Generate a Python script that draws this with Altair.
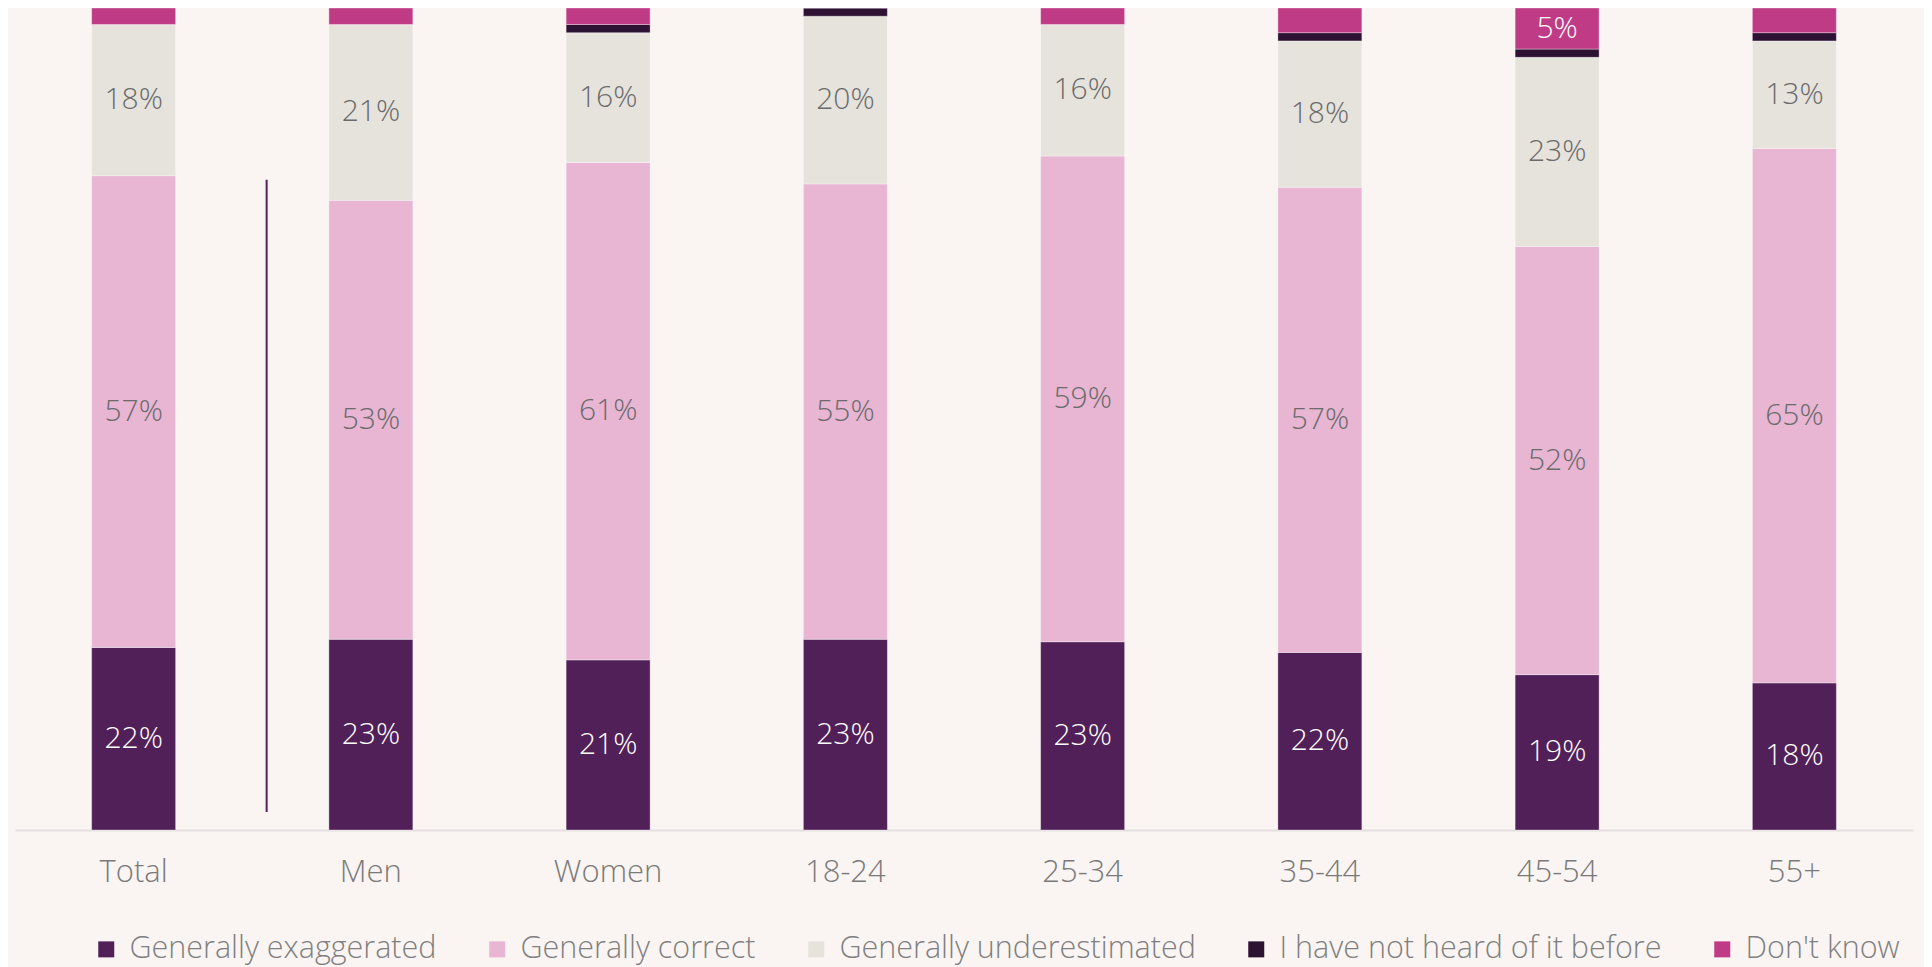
import altair as alt
import pandas as pd

categories = ["Total", "Men", "Women", "18-24", "25-34", "35-44", "45-54", "55+"]
series = ["Generally exaggerated", "Generally correct", "Generally underestimated",
          "I have not heard of it before", "Don't know"]
exaggerated = [22.2, 23.2, 20.7, 23.2, 22.9, 21.6, 18.9, 17.9]
correct = [57.4, 53.4, 60.5, 55.4, 59.1, 56.6, 52.1, 65.0]
underestimated = [18.4, 21.4, 15.8, 20.4, 16.0, 17.8, 23.0, 13.1]
not_heard = [0.0, 0.0, 1.0, 1.0, 0.0, 1.0, 1.0, 1.0]
dont_know = [2.0, 2.0, 2.0, 0.0, 2.0, 3.0, 5.0, 3.0]
colors = ["#522058", "#E8B5D3", "#E6E3DD", "#2E1233", "#C03B85"]

rows = []
for s_i, (name, vals) in enumerate(zip(series, [exaggerated, correct, underestimated, not_heard, dont_know])):
    for c, v in zip(categories, vals):
        rows.append({"category": c, "series": name, "ord": s_i, "value": v / 100.0})
df = pd.DataFrame(rows)

FONT = "Open Sans"
BG = "#FAF5F3"

xenc = alt.X("category:N", sort=categories, title=None,
             scale=alt.Scale(paddingInner=0.646, paddingOuter=0.323),
             axis=alt.Axis(labelAngle=0, ticks=False, labelPadding=27, labelFontSize=31,
                           labelFont=FONT, labelFontWeight=300, labelColor="#7a7a7a",
                           domainColor="#E4E0E0", domainWidth=2, grid=False))
yscale = alt.Scale(domain=[0, 1], nice=False, zero=True)

base = alt.Chart(df).transform_stack(
    stack="value", groupby=["category"], sort=[alt.SortField("ord", order="ascending")],
    as_=["v0", "v1"]
)

bars = base.mark_bar(stroke="white", strokeWidth=0.7, strokeOpacity=0.5).encode(
    x=xenc,
    y=alt.Y("v0:Q", scale=yscale, axis=None, title=None),
    y2="v1:Q",
    color=alt.Color("series:N", sort=series,
                    scale=alt.Scale(domain=series, range=colors),
                    legend=alt.Legend(title=None, orient="none", legendX=76, legendY=926,
                                      direction="horizontal", columns=5, columnPadding=45,
                                      symbolType="square", symbolSize=256, symbolStrokeWidth=0,
                                      labelFontSize=30.5, labelFont=FONT, labelFontWeight=300,
                                      labelColor="#808080", labelOffset=8, labelLimit=1000,
                                      padding=0, offset=0)),
)

labels = base.transform_filter("datum.value >= 0.04").transform_calculate(
    mid="(datum.v0 + datum.v1) / 2"
).mark_text(font=FONT, fontSize=30, fontWeight=300, baseline="middle", align="center").encode(
    x=alt.X("category:N", sort=categories),
    y=alt.Y("mid:Q", scale=yscale),
    text=alt.Text("value:Q", format=".0%"),
    color=alt.condition("datum.ord == 0 || datum.ord == 4", alt.value("white"), alt.value("#6b6b6b")),
)

sep = alt.Chart(pd.DataFrame({"a": [0]})).mark_rule(
    color="#52205A", strokeWidth=2, xOffset=133
).encode(
    x=alt.datum("Total"),
    y=alt.datum(0.791),
    y2=alt.datum(0.022),
)

chart = alt.layer(bars, labels, sep).properties(
    width=1898, height=822,
    autosize=alt.AutoSizeParams(type="none"),
    padding={"left": 7, "top": 0, "right": 11, "bottom": 137},
    background=BG,
    usermeta={"embedOptions": {"defaultStyle": "html,body{background:#FAF5F3;overflow:hidden;}"}},
).configure_view(stroke=None)

chart.save("out.html", embed_options={"renderer": "svg", "actions": False})
